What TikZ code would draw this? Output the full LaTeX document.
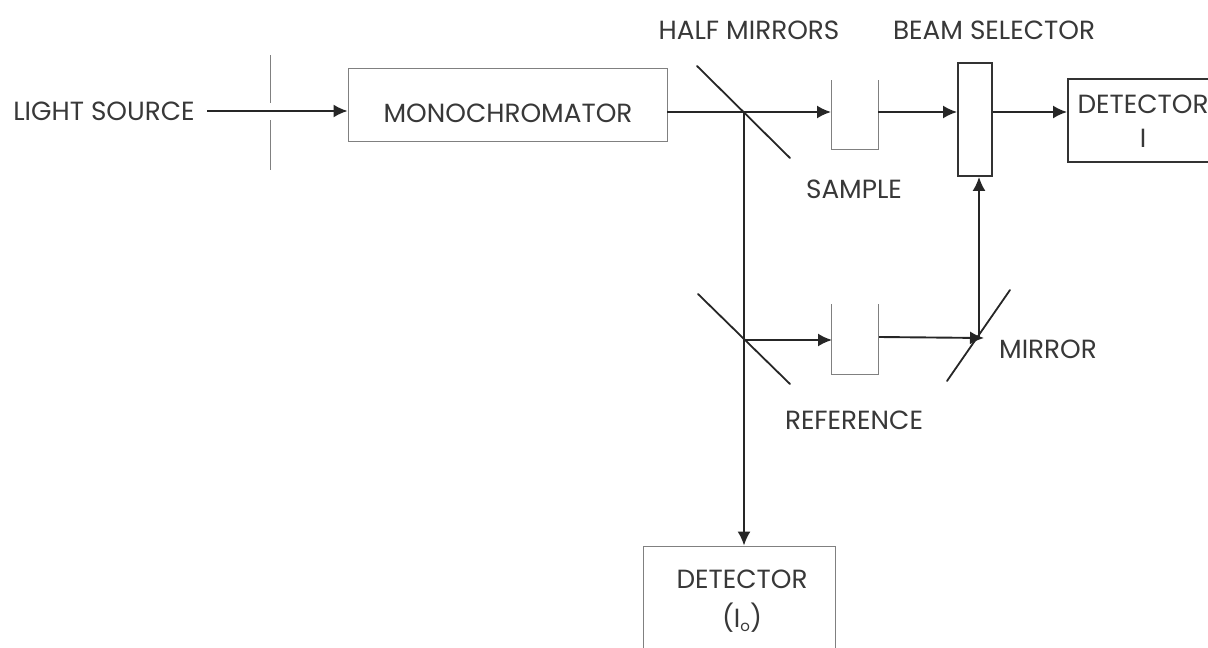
\documentclass[tikz,border=0pt]{standalone}
\usepackage{fontspec}
\setmainfont{Poppins}
\usetikzlibrary{arrows.meta}
\tikzset{
  lbl/.style={inner sep=0pt,text=black!78,font=\fontsize{26.3}{30}\selectfont},
  beam/.style={line width=1.9pt,draw=black!85},
  ray/.style={beam,-{Latex[length=14pt,width=13pt]}},
  thin grey/.style={line width=0.9pt,draw=black!50},
  hairbox/.style={thin grey,fill=none,inner sep=0pt},
  heavybox/.style={line width=1.9pt,draw=black!80,inner sep=0pt},
  mirrorline/.style={line width=1.8pt,draw=black!85,line cap=round}
}
\begin{document}
\begin{tikzpicture}[x=1pt,y=-1pt]
\useasboundingbox (0,0) rectangle (1208,648);
\clip (0,0) rectangle (1208,648);
% text
\node[lbl] (src) at (104,111) {LIGHT SOURCE};
\node[lbl] (hm) at (749,30) {HALF MIRRORS};
\node[lbl] (bs) at (994,30) {BEAM SELECTOR};
\node[lbl] (sl) at (854,189) {SAMPLE};
\node[lbl] (rl) at (854,420) {REFERENCE};
\node[lbl] (ml) at (1048,349) {MIRROR};
% boxes
\node[hairbox,minimum width=319pt,minimum height=73pt] (mono) at (507.5,104.5) {};
\node[lbl] (monot) at (508,113) {MONOCHROMATOR};
\node[heavybox,minimum width=34pt,minimum height=113pt] (sel) at (975,119.5) {};
\node[heavybox,minimum width=150pt,minimum height=83pt] (det) at (1143,120.5) {};
\node[lbl] (dett) at (1143,104) {DETECTOR};
\node[lbl] (deti) at (1143,138) {I};
\node[hairbox,minimum width=192pt,minimum height=120pt] (det0) at (739,606) {};
\node[lbl] (det0t) at (742,579) {DETECTOR};
\node[lbl] (det0i) at (742,618) {(I\raisebox{-4pt}{\fontsize{15}{15}\selectfont o})};
% slit
\coordinate (s1) at (270,55); \coordinate (s2) at (270,103);
\coordinate (s3) at (270,120); \coordinate (s4) at (270,170);
\draw[thin grey] (s1) -- (s2) (s3) -- (s4);
% sample and reference cells
\coordinate (a1) at (831,80); \coordinate (a2) at (831,149);
\coordinate (a3) at (878,149); \coordinate (a4) at (878,80);
\draw[thin grey] (a1) -- (a2) -- (a3) -- (a4);
\coordinate (b1) at (831,304); \coordinate (b2) at (831,374);
\coordinate (b3) at (878,374); \coordinate (b4) at (878,304);
\draw[thin grey] (b1) -- (b2) -- (b3) -- (b4);
% mirrors
\coordinate (m1a) at (697,66); \coordinate (m1b) at (790,158);
\coordinate (m2a) at (698,294); \coordinate (m2b) at (790,384);
\coordinate (m3a) at (1010,290); \coordinate (m3b) at (947,381);
\draw[mirrorline] (m1a) -- (m1b);
\draw[mirrorline] (m2a) -- (m2b);
\draw[mirrorline] (m3a) -- (m3b);
% beams
\coordinate (srcend) at (207,111);
\coordinate (samIn) at (831,112); \coordinate (samOut) at (878,112);
\coordinate (j1) at (744,112); \coordinate (j2) at (744,340);
\coordinate (refIn) at (832,340); \coordinate (refOut) at (879,337);
\coordinate (mp) at (984,338); \coordinate (mv) at (979,338);
\draw[ray] (srcend) -- (mono.west |- srcend);
\draw[ray] (mono.east |- samIn) -- (samIn);
\draw[ray] (samOut) -- (sel.west |- samOut);
\draw[ray] (sel.east |- samOut) -- (det.west |- samOut);
\draw[ray] (j1) -- (det0.north -| j1);
\draw[ray] (j2) -- (refIn);
\draw[ray] (refOut) -- (mp);
\draw[ray] (mv) -- (sel.south -| mv);
\end{tikzpicture}
\end{document}
